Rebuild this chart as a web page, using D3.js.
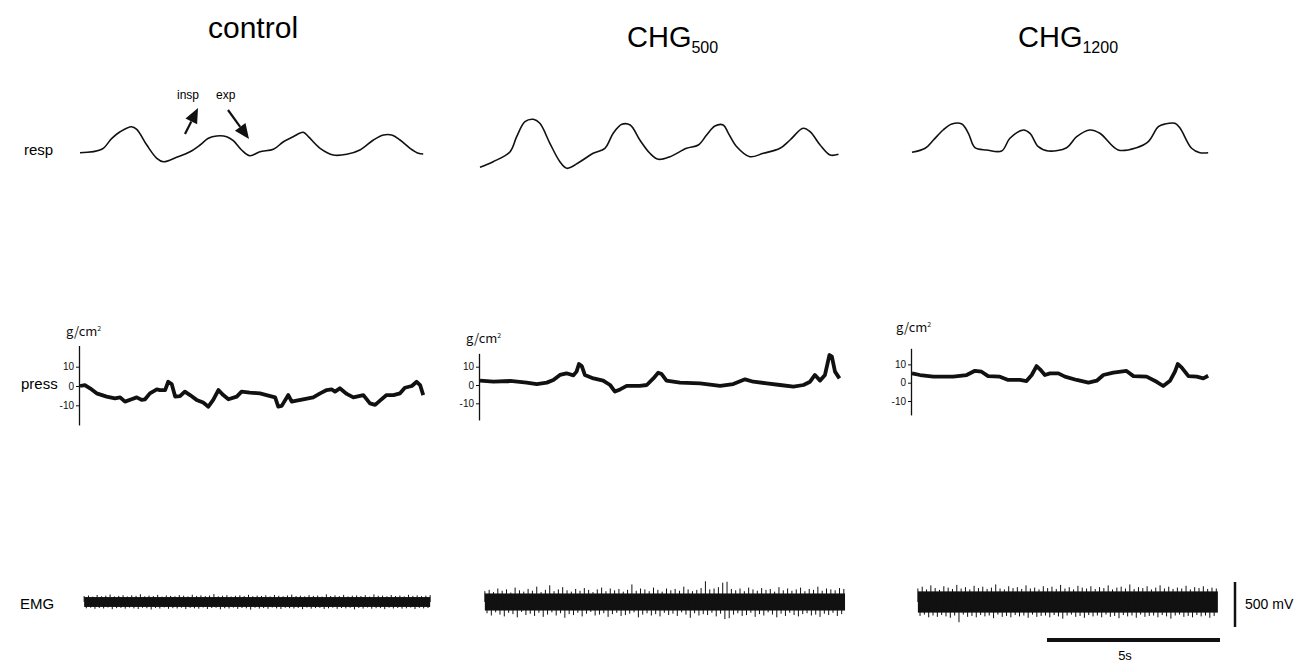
<!DOCTYPE html>
<html>
<head>
<meta charset="utf-8">
<script src="https://cdn.jsdelivr.net/npm/d3@7"></script>
<style>
  body { margin: 0; background: #fff; }
  svg { display: block; font-family: Arial, "Liberation Sans", sans-serif; }
</style>
</head>
<body>
<svg id="chart" width="1300" height="662"></svg>
<script>
// ---- data ----
const titleMain = ['control', 'CHG', 'CHG'];
const titleSub = ['', '500', '1200'];
const rowLabels = ['resp', 'press', 'EMG'];

// respiration, [time (s), amplitude (a.u.)]
const respControl = [[0,1.73],[0.63,2.07],[0.92,3.17],[1.16,3.83],[1.49,4.33],[1.64,4.07],[1.93,2.5],[2.22,1.17],[2.41,0.83],[2.79,1.27],[3.18,1.83],[3.47,2.5],[3.71,3.17],[3.95,3.4],[4.24,3.33],[4.43,2.93],[4.67,2.0],[4.91,1.43],[5.2,1.83],[5.59,2.07],[5.88,2.83],[6.16,3.33],[6.45,3.77],[6.6,3.33],[6.94,2.17],[7.32,1.5],[7.71,1.57],[8.09,2.0],[8.48,3.0],[8.77,3.5],[9.01,3.5],[9.25,3.0],[9.54,2.17],[9.78,1.67],[9.92,1.6]];
const respChg500 = [[0,0.27],[0.38,0.83],[0.87,1.83],[1.06,3.33],[1.3,4.83],[1.54,5.07],[1.73,4.67],[2.02,2.67],[2.31,0.83],[2.51,0.17],[2.89,0.83],[3.27,1.67],[3.61,2.17],[3.85,3.67],[4.1,4.57],[4.34,4.5],[4.62,3.0],[4.91,1.67],[5.15,1.07],[5.49,1.33],[5.97,2.17],[6.31,2.5],[6.55,3.5],[6.79,4.4],[7.03,4.5],[7.18,3.67],[7.42,2.33],[7.8,1.33],[8.19,1.67],[8.67,2.17],[8.96,3.0],[9.34,4.17],[9.54,3.83],[9.83,2.5],[10.12,1.5],[10.36,1.57]];
const respChg1200 = [[0,1.77],[0.38,2.17],[0.62,3.0],[0.9,4.0],[1.15,4.6],[1.44,4.6],[1.63,3.67],[1.82,2.23],[2.16,2.0],[2.59,1.9],[2.83,3.17],[3.22,4.0],[3.41,3.67],[3.65,2.33],[3.94,1.9],[4.47,2.23],[4.76,3.33],[5.14,4.0],[5.43,3.67],[5.96,2.0],[6.49,2.23],[6.83,2.83],[7.12,4.33],[7.31,4.6],[7.6,4.67],[7.75,4.17],[8.08,2.17],[8.32,1.73],[8.56,1.73]];

// intra-abdominal pressure, [time (s), g/cm2]
const pressControl = [[0,0],[0.14,0.5],[0.29,-1.2],[0.48,-3.8],[0.77,-5.5],[1.01,-6.4],[1.16,-5.9],[1.3,-8.1],[1.49,-6.9],[1.64,-5.9],[1.78,-7.2],[1.88,-6.9],[2.02,-3.8],[2.22,-1.7],[2.31,-2.1],[2.46,-2.1],[2.55,2.2],[2.65,1.0],[2.75,-5.5],[2.89,-5.2],[3.03,-2.9],[3.18,-4.7],[3.37,-7.2],[3.56,-8.6],[3.71,-10.7],[3.85,-7.2],[4.0,-2.1],[4.14,-4.7],[4.29,-6.9],[4.53,-5.5],[4.67,-2.9],[4.91,-3.4],[5.2,-3.8],[5.39,-4.7],[5.64,-5.9],[5.73,-10.7],[5.83,-10.3],[6.02,-4.7],[6.12,-8.1],[6.26,-7.6],[6.45,-6.9],[6.74,-5.9],[6.94,-3.8],[7.13,-2.1],[7.27,-1.7],[7.37,-2.9],[7.51,-1.2],[7.71,-4.1],[7.9,-5.9],[8.19,-4.7],[8.38,-9.0],[8.53,-9.8],[8.67,-7.6],[8.86,-4.7],[9.06,-4.7],[9.25,-3.8],[9.39,-0.9],[9.59,0],[9.73,2.2],[9.83,0.5],[9.92,-4.7]];
const pressChg500 = [[0,2.4],[0.39,1.8],[0.87,2.2],[1.35,1.3],[1.64,0.5],[1.93,1.3],[2.12,2.7],[2.31,5.5],[2.5,6.4],[2.7,5.3],[2.79,7.3],[2.86,11.5],[2.94,10.4],[3.03,5.5],[3.28,3.6],[3.56,2.4],[3.76,0],[3.9,-3.6],[4.05,-2.4],[4.24,-0.5],[4.62,-0.5],[4.82,0],[5.01,3.6],[5.15,6.7],[5.25,6.0],[5.39,2.4],[5.78,1.3],[6.36,0.9],[6.94,-0.5],[7.32,0.5],[7.66,3.1],[7.9,1.8],[8.29,0.9],[8.67,0],[9.06,-0.9],[9.35,0],[9.54,1.8],[9.68,5.5],[9.83,2.4],[9.97,5.5],[10.1,16.4],[10.17,15.5],[10.26,7.3],[10.39,3.6]];
const pressChg1200 = [[0,5.1],[0.23,4.2],[0.62,3.3],[1.19,3.3],[1.58,4.2],[1.82,6.5],[2.01,6.0],[2.2,3.6],[2.54,3.3],[2.78,1.5],[3.12,1.5],[3.31,0.9],[3.46,4.2],[3.6,9.1],[3.7,7.3],[3.84,4.2],[3.99,5.1],[4.23,5.1],[4.42,3.3],[4.76,1.5],[5.1,0],[5.34,1.1],[5.53,4.2],[5.82,5.5],[6.2,6.4],[6.4,3.6],[6.78,3.3],[7.07,0.5],[7.26,-1.8],[7.46,1.1],[7.6,6.0],[7.68,10.2],[7.79,8.4],[7.99,3.6],[8.23,3.3],[8.42,2.4],[8.56,3.8]];
const pressTicks = [-10, 0, 10];

// EMG: sample step (s), tonic half-amplitude and spike peaks per sample (mV)
const emgStep = 0.125;
const emgStart = [0.12, 0.14, 0.17];
const emgEnd = [10.12, 10.55, 8.84];
const emgCore = [55, 95, 118];
const emgUpControl = [66,72,60,78,64,70,83,62,68,75,61,74,69,86,63,71,66,79,60,73,68,64,77,70,62,81,67,74,65,72,88,63,70,76,61,69,74,66,80,64,71,67,75,62,78,69,64,73,82,66,70,63,77,68,72,61,85,67,74,65,79,62,70,73,66,76,60,84,69,71,64,78,67,72,63,80,68,74,65,71,76];
const emgDownControl = [70,63,76,66,72,61,80,68,65,74,62,71,78,64,69,83,66,73,60,75,68,72,63,79,65,70,74,61,77,67,64,81,69,72,62,76,66,70,85,63,73,67,75,61,71,78,64,69,72,66,80,62,74,68,65,77,70,63,76,67,71,64,82,66,73,61,75,69,68,79,63,72,66,74,70,62,78,65,71,67];
const emgUpChg500 = [120,135,110,150,125,140,105,160,130,115,145,125,170,110,135,185,120,140,165,130,115,145,125,155,135,110,140,160,120,150,130,145,115,135,195,125,150,140,120,160,135,115,150,130,145,125,170,140,120,135,155,230,140,150,165,215,225,145,130,150,120,160,140,125,155,135,145,115,165,130,150,125,140,160,120,145,135,170,125,150,140,130,155,145];
const emgDownChg500 = [125,150,115,140,160,120,135,170,110,145,130,155,120,165,140,115,150,125,175,135,145,120,160,130,110,150,140,125,165,135,120,155,145,130,115,170,140,125,150,135,160,120,145,130,155,115,140,175,125,150,135,145,120,160,130,190,180,140,125,155,145,120,165,135,150,115,140,170,130,155,120,145,160,135,125,150,140,165,130,145,120,155,135];
const emgUpChg1200 = [150,170,140,185,155,135,175,160,145,190,150,165,140,180,155,170,145,160,195,150,140,175,155,165,145,185,150,160,140,175,155,170,145,190,150,165,140,180,160,150,175,145,165,155,185,140,160,170,150,195,145,165,155,175,140,160,185,150,170,145,160,150,180,140,165,155,175,145,160,150];
const emgDownChg1200 = [155,140,170,150,165,145,160,175,150,225,140,165,155,170,145,160,150,180,140,165,155,170,145,160,150,175,140,165,155,150,170,145,160,185,150,140,165,155,175,145,160,150,170,140,165,155,180,145,160,150,175,140,165,155,150,170,145,160,185,150,140,165,155,170,145,160,150,175,155];

const respSeries = [respControl, respChg500, respChg1200];
const pressSeries = [pressControl, pressChg500, pressChg1200];
const emgUp = [emgUpControl, emgUpChg500, emgUpChg1200];
const emgDown = [emgDownControl, emgDownChg500, emgDownChg1200];

// ---- layout ----
const panelX = [80, 480, 912];
const titleX = [208, 627, 1018];
const titleY = [38, 47, 47];
const pressZero = [386, 385, 382.7];
const pressPx = [1.93, 1.83, 1.83];      // px per g/cm2
const pressExtent = [[-20.2, 21], [-19.1, 17.3], [-17.6, 18.8]];
const unitLabelPos = [[66, 336], [466, 343], [896, 332]];
const emgMid = 602;

const svg = d3.select('#chart');

// shared time scale: 5 s = 173 px
const x = d3.scaleLinear().domain([0, 5]).range([0, 173]);
const yResp = d3.scaleLinear().domain([0, 5]).range([170, 120]);
const yEmg = d3.scaleLinear().domain([-500, 500]).range([emgMid + 45, emgMid - 45]);

// row labels
const rowY = [155, 389, 609];
svg.selectAll('.row-label')
  .data(rowLabels)
  .enter().append('text')
    .attr('class', 'row-label')
    .attr('x', (d, i) => [24, 21, 20][i])
    .attr('y', (d, i) => rowY[i])
    .style('font-size', '15px')
    .text(d => d);

panelX.forEach((x0, i) => {
  // title with subscript
  const title = svg.append('text')
    .attr('x', titleX[i])
    .attr('y', titleY[i])
    .style('font-size', i === 0 ? '30px' : '29px')
    .text(titleMain[i]);
  if (titleSub[i]) {
    title.append('tspan')
      .attr('dy', 6)
      .style('font-size', '16px')
      .text(titleSub[i]);
  }

  const g = svg.append('g').attr('transform', `translate(${x0},0)`);

  // respiration trace
  g.append('path')
    .datum(respSeries[i])
    .attr('d', d3.line()
      .x(d => x(d[0]))
      .y(d => yResp(d[1]))
      .curve(d3.curveCatmullRom.alpha(0.5)))
    .style('fill', 'none')
    .style('stroke', '#111')
    .style('stroke-width', 1.6);

  // pressure axis + trace
  const ext = pressExtent[i];
  const yP = d3.scaleLinear()
    .domain(ext)
    .range([pressZero[i] - ext[0] * pressPx[i], pressZero[i] - ext[1] * pressPx[i]]);

  const axis = g.append('g')
    .attr('transform', 'translate(-1,0)')
    .call(d3.axisLeft(yP)
      .tickValues(pressTicks)
      .tickSize(3)
      .tickSizeOuter(0)
      .tickPadding(2)
      .tickFormat(d => String(d)));
  axis.select('.domain').style('stroke', '#111').style('stroke-width', 1.3);
  axis.selectAll('.tick line').style('stroke', '#111');
  axis.selectAll('.tick text')
    .style('font-family', 'Arial, "Liberation Sans", sans-serif')
    .style('font-size', '10px')
    .style('fill', '#111');

  // unit label g/cm2
  const unit = svg.append('text')
    .attr('x', unitLabelPos[i][0])
    .attr('y', unitLabelPos[i][1])
    .style('font-family', '"Noto Sans CJK JP", sans-serif')
    .style('font-size', '13px')
    .style('fill', '#111')
    .text('g/cm');
  unit.append('tspan')
    .attr('dy', -5)
    .style('font-size', '7px')
    .text('2');

  g.append('path')
    .datum(pressSeries[i])
    .attr('d', d3.line()
      .x(d => x(d[0]))
      .y(d => yP(d[1])))
    .style('fill', 'none')
    .style('stroke', '#111')
    .style('stroke-width', 3.8)
    .style('stroke-linejoin', 'round');

  // EMG: tonic band plus spikes
  const emg = g.append('g');
  emg.append('rect')
    .attr('x', x(emgStart[i]))
    .attr('width', x(emgEnd[i]) - x(emgStart[i]))
    .attr('y', yEmg(emgCore[i]))
    .attr('height', yEmg(-emgCore[i]) - yEmg(emgCore[i]))
    .style('fill', '#111');

  emg.selectAll('.spike-up')
    .data(emgUp[i])
    .enter().append('line')
      .attr('class', 'spike-up')
      .attr('x1', (d, k) => x(emgStart[i] + k * emgStep))
      .attr('x2', (d, k) => x(emgStart[i] + k * emgStep))
      .attr('y1', yEmg(0))
      .attr('y2', d => yEmg(d))
      .style('stroke', '#111')
      .style('stroke-width', 1);

  emg.selectAll('.spike-down')
    .data(emgDown[i].filter((d, k) => emgStart[i] + (k + 0.5) * emgStep <= emgEnd[i]))
    .enter().append('line')
      .attr('class', 'spike-down')
      .attr('x1', (d, k) => x(emgStart[i] + (k + 0.5) * emgStep))
      .attr('x2', (d, k) => x(emgStart[i] + (k + 0.5) * emgStep))
      .attr('y1', yEmg(0))
      .attr('y2', d => yEmg(-d))
      .style('stroke', '#111')
      .style('stroke-width', 1);
});

// insp / exp annotation arrows
function arrow(x1, y1, x2, y2) {
  const ang = Math.atan2(y2 - y1, x2 - x1);
  const len = 15, half = 6.5;
  const bx = x2 - len * Math.cos(ang), by = y2 - len * Math.sin(ang);
  svg.append('line')
    .attr('x1', x1).attr('y1', y1).attr('x2', bx).attr('y2', by)
    .style('stroke', '#111').style('stroke-width', 2.2);
  svg.append('path')
    .attr('d', `M${x2},${y2}L${bx + half * Math.sin(ang)},${by - half * Math.cos(ang)}L${bx - half * Math.sin(ang)},${by + half * Math.cos(ang)}Z`)
    .style('fill', '#111');
}
arrow(185, 134, 198, 108);
arrow(228, 110, 249, 139);
svg.append('text').attr('x', 177).attr('y', 99).style('font-size', '12px').text('insp');
svg.append('text').attr('x', 216).attr('y', 99).style('font-size', '12px').text('exp');

// calibration bars
svg.append('line')
  .attr('x1', 1235).attr('x2', 1235)
  .attr('y1', yEmg(250) + 2.5).attr('y2', yEmg(-250) + 2.5)
  .style('stroke', '#111').style('stroke-width', 2.5);
svg.append('text')
  .attr('x', 1245).attr('y', 609)
  .style('font-size', '14px')
  .text('500 mV');

svg.append('line')
  .attr('x1', 1047).attr('x2', 1047 + x(5))
  .attr('y1', 640).attr('y2', 640)
  .style('stroke', '#111').style('stroke-width', 4);
svg.append('text')
  .attr('x', 1125).attr('y', 660)
  .attr('text-anchor', 'middle')
  .style('font-size', '13px')
  .text('5s');
</script>
</body>
</html>
